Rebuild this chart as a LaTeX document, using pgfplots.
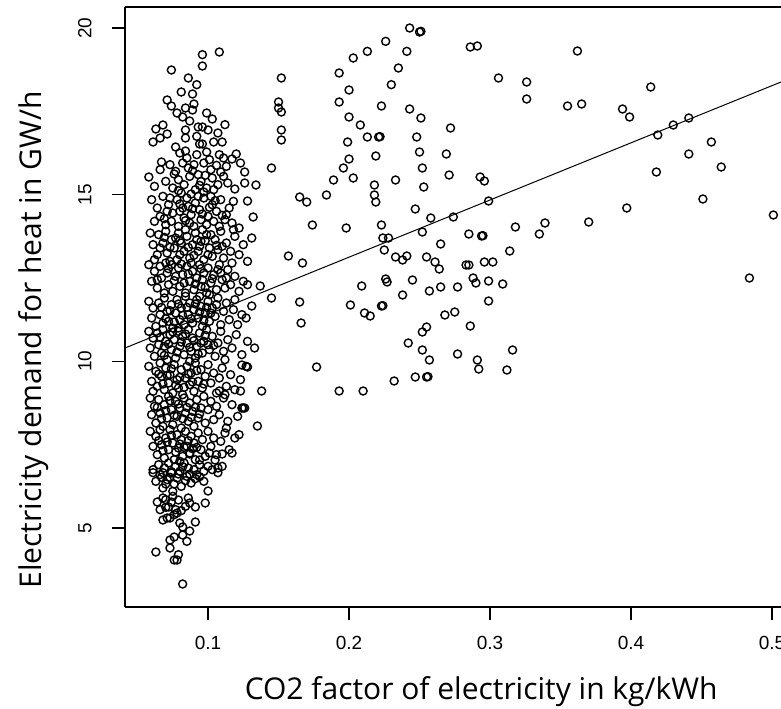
\documentclass[border=0pt]{standalone}
\usepackage{fontspec}
\setmainfont{Liberation Sans}
\newfontfamily\titlefont{Open Sans}
\usepackage{pgfplots}
\pgfplotsset{compat=1.18}
\begin{document}
\begin{tikzpicture}
\begin{axis}[
  at={(62.5pt,50.5pt)}, anchor=south west,
  scale only axis, width=328pt, height=300pt,
  xmin=0.0411, xmax=0.5064, ymin=2.63, ymax=20.63,
  axis x line*=box, axis y line*=left,
  xtick={0.1,0.2,0.3,0.4,0.5}, ytick={5,10,15,20},
  xtick pos=left, ytick pos=left,
  tick align=outside, major tick length=6.5pt,
  tick style={black, line width=0.7pt},
  axis line style={black, line width=0.7pt},
  /pgf/number format/assume math mode=true,
  /pgf/number format/fixed,
  /pgf/number format/precision=1,
  ticklabel style={font=\fontsize{9.5}{11}\selectfont},
  xticklabel style={anchor=north, inner sep=0pt, yshift=-8pt},
  yticklabel style={xshift=-10pt, rotate=90, anchor=south, inner sep=0pt},
  xlabel={CO2 factor of electricity in kg/kWh},
  ylabel={Electricity demand for heat in GW/h},
  xlabel style={font=\titlefont\fontsize{15}{17}\selectfont, at={(axis description cs:0.543,-0.1417)}, anchor=center},
  ylabel style={font=\titlefont\fontsize{15}{17}\selectfont, at={(axis description cs:-0.140,0.445)}, anchor=center},
]
% cluster
\addplot[only marks, mark=o, mark size=2pt, mark options={line width=0.7pt, black}] coordinates {
(0.096,19.20)(0.108,19.28)(0.096,18.86)(0.074,18.74)(0.086,18.50)(0.081,18.08)(0.089,18.02)(0.092,18.30)
(0.071,17.84)(0.074,17.66)(0.084,17.60)(0.090,17.72)(0.089,17.54)(0.082,17.33)(0.087,17.21)(0.099,17.45)(0.103,17.27)(0.068,17.09)(0.063,16.97)(0.071,16.82)(0.061,16.58)(0.084,16.94)(0.084,16.70)(0.093,17.03)(0.096,17.03)(0.100,16.94)(0.107,16.85)(0.094,16.52)(0.096,16.52)(0.104,16.58)(0.110,16.58)(0.077,16.43)(0.080,16.25)(0.084,16.31)(0.099,16.28)(0.092,16.75)(0.112,17.10)(0.078,17.45)(0.066,16.70)
(0.067,15.98)(0.058,15.53)(0.073,15.90)(0.077,15.70)(0.082,15.95)(0.086,15.80)(0.090,15.90)(0.093,15.60)(0.097,15.95)(0.102,15.75)(0.106,15.88)(0.111,16.10)(0.117,16.07)(0.120,16.22)(0.123,15.95)(0.126,15.68)(0.126,15.35)(0.134,15.29)(0.119,15.17)(0.070,15.40)(0.075,15.20)(0.079,15.45)(0.083,15.30)(0.087,15.55)(0.091,15.15)(0.095,15.40)(0.099,15.20)(0.103,15.50)(0.107,15.30)(0.111,15.55)(0.114,15.35)(0.081,15.05)(0.088,15.02)(0.097,15.08)(0.062,15.25)(0.066,15.75)(0.101,16.05)(0.108,16.20)(0.113,15.85)(0.085,16.10)(0.092,16.20)
(0.060,14.85)(0.064,14.60)(0.068,14.95)(0.072,14.70)(0.075,14.45)(0.078,14.85)(0.082,14.60)(0.085,14.90)(0.088,14.40)(0.091,14.75)(0.094,14.55)(0.097,14.90)(0.100,14.35)(0.103,14.70)(0.106,14.50)(0.109,14.85)(0.112,14.25)(0.115,14.60)(0.118,14.80)(0.128,14.81)(0.132,14.33)(0.122,14.00)(0.131,13.70)(0.062,14.20)(0.066,14.35)(0.070,14.10)(0.074,14.20)(0.079,14.05)(0.083,14.30)(0.087,14.15)(0.090,14.05)(0.095,14.25)(0.099,14.10)(0.104,14.20)(0.108,14.05)(0.113,14.40)(0.117,14.15)(0.080,14.50)(0.093,14.95)(0.071,14.50)(0.086,14.65)(0.102,14.95)
(0.059,13.85)(0.061,13.50)(0.064,13.20)(0.065,13.80)(0.068,13.55)(0.070,13.90)(0.071,13.25)(0.074,13.65)(0.076,13.40)(0.078,13.05)(0.079,13.85)(0.081,13.55)(0.083,13.30)(0.085,13.75)(0.087,13.10)(0.089,13.50)(0.091,13.85)(0.093,13.30)(0.095,13.60)(0.097,13.05)(0.099,13.80)(0.101,13.40)(0.103,13.15)(0.105,13.65)(0.107,13.35)(0.109,13.90)(0.111,13.10)(0.113,13.55)(0.116,13.30)(0.119,13.75)(0.122,13.20)(0.125,13.50)(0.128,13.00)(0.062,13.05)(0.073,13.00)(0.084,13.95)(0.096,13.95)(0.100,13.20)(0.092,13.65)(0.080,13.20)(0.066,13.40)(0.118,13.95)(0.110,13.45)
(0.058,12.90)(0.060,12.40)(0.062,12.70)(0.064,12.20)(0.066,12.85)(0.067,12.50)(0.069,12.05)(0.071,12.65)(0.072,12.30)(0.074,12.90)(0.075,12.10)(0.077,12.55)(0.079,12.80)(0.080,12.25)(0.082,12.60)(0.084,12.05)(0.085,12.85)(0.087,12.40)(0.089,12.70)(0.090,12.15)(0.092,12.50)(0.094,12.90)(0.095,12.25)(0.097,12.65)(0.099,12.05)(0.100,12.80)(0.102,12.35)(0.104,12.60)(0.106,12.15)(0.108,12.90)(0.110,12.45)(0.112,12.20)(0.114,12.75)(0.116,12.30)(0.119,12.55)(0.122,12.10)(0.125,12.40)(0.128,12.30)(0.137,12.26)(0.070,12.95)(0.088,12.95)(0.101,12.00)(0.117,12.95)(0.064,12.45)(0.083,12.35)(0.096,12.45)(0.109,12.65)
(0.058,11.80)(0.060,11.30)(0.061,11.60)(0.063,11.05)(0.065,11.75)(0.066,11.40)(0.068,11.15)(0.069,11.90)(0.071,11.50)(0.072,11.20)(0.074,11.70)(0.075,11.00)(0.077,11.45)(0.078,11.85)(0.080,11.25)(0.081,11.60)(0.083,11.10)(0.084,11.95)(0.086,11.40)(0.087,11.75)(0.089,11.15)(0.090,11.55)(0.092,11.85)(0.093,11.30)(0.095,11.65)(0.096,11.05)(0.098,11.45)(0.100,11.80)(0.101,11.20)(0.103,11.60)(0.105,11.35)(0.107,11.90)(0.109,11.10)(0.111,11.50)(0.113,11.75)(0.115,11.25)(0.118,11.55)(0.121,11.10)(0.124,11.40)(0.127,11.30)(0.131,11.66)(0.145,11.90)(0.079,11.00)(0.094,11.95)(0.106,11.70)(0.119,11.85)
(0.058,10.90)(0.059,10.40)(0.061,10.70)(0.062,10.15)(0.064,10.85)(0.065,10.50)(0.067,10.25)(0.068,10.95)(0.070,10.60)(0.071,10.05)(0.073,10.80)(0.074,10.35)(0.076,10.65)(0.077,10.10)(0.079,10.90)(0.080,10.45)(0.082,10.75)(0.083,10.20)(0.085,10.55)(0.086,10.95)(0.088,10.30)(0.089,10.70)(0.091,10.10)(0.092,10.45)(0.094,10.85)(0.096,10.25)(0.097,10.60)(0.099,10.95)(0.101,10.35)(0.103,10.75)(0.105,10.15)(0.107,10.55)(0.109,10.90)(0.111,10.30)(0.114,10.65)(0.117,10.40)(0.120,10.80)(0.124,10.20)(0.133,10.40)(0.128,10.60)(0.069,10.45)(0.087,10.00)(0.100,10.50)(0.112,10.05)
(0.058,9.85)(0.060,9.40)(0.061,9.10)(0.063,9.70)(0.064,9.25)(0.066,9.95)(0.067,9.55)(0.069,9.15)(0.070,9.80)(0.072,9.35)(0.073,9.60)(0.075,9.05)(0.076,9.90)(0.078,9.45)(0.079,9.20)(0.081,9.75)(0.082,9.00)(0.084,9.50)(0.085,9.85)(0.087,9.30)(0.088,9.65)(0.090,9.10)(0.091,9.95)(0.093,9.40)(0.095,9.75)(0.096,9.20)(0.098,9.55)(0.100,9.90)(0.102,9.35)(0.104,9.65)(0.106,9.05)(0.108,9.50)(0.110,9.80)(0.113,9.25)(0.116,9.60)(0.119,9.15)(0.123,9.45)(0.127,9.85)(0.138,9.11)(0.123,9.11)(0.112,9.00)(0.108,9.11)(0.128,9.83)(0.124,9.89)
(0.059,8.90)(0.060,8.40)(0.062,8.65)(0.063,8.15)(0.065,8.85)(0.066,8.45)(0.068,8.05)(0.069,8.70)(0.071,8.30)(0.072,8.95)(0.074,8.55)(0.075,8.10)(0.077,8.80)(0.078,8.35)(0.080,8.60)(0.081,8.00)(0.083,8.90)(0.084,8.45)(0.086,8.20)(0.087,8.75)(0.089,8.50)(0.090,8.05)(0.092,8.85)(0.093,8.30)(0.095,8.60)(0.097,8.95)(0.098,8.15)(0.100,8.55)(0.102,8.80)(0.104,8.25)(0.106,8.65)(0.108,8.40)(0.111,8.90)(0.114,8.20)(0.117,8.70)(0.121,8.35)(0.124,8.60)(0.125,8.60)(0.126,8.60)(0.135,8.06)(0.113,8.00)
(0.059,7.90)(0.061,7.45)(0.063,7.75)(0.064,7.20)(0.066,7.95)(0.067,7.50)(0.069,7.10)(0.070,7.70)(0.072,7.35)(0.073,7.95)(0.075,7.55)(0.076,7.05)(0.078,7.80)(0.079,7.40)(0.081,7.65)(0.082,7.15)(0.084,7.90)(0.085,7.45)(0.087,7.25)(0.088,7.75)(0.090,7.55)(0.091,7.05)(0.093,7.85)(0.095,7.35)(0.096,7.65)(0.098,7.15)(0.100,7.90)(0.102,7.45)(0.104,7.70)(0.106,7.20)(0.109,7.60)(0.112,7.85)(0.115,7.35)(0.119,7.70)(0.122,7.80)(0.080,7.00)(0.087,7.22)(0.094,7.04)(0.101,7.25)(0.105,7.04)(0.110,7.22)(0.117,7.25)
(0.061,6.75)(0.063,6.40)(0.065,6.90)(0.066,6.60)(0.068,6.20)(0.069,6.80)(0.071,6.45)(0.072,6.95)(0.074,6.65)(0.075,6.10)(0.077,6.85)(0.078,6.50)(0.080,6.70)(0.081,6.25)(0.083,6.95)(0.085,6.55)(0.086,6.80)(0.088,6.35)(0.090,6.75)(0.092,6.60)(0.094,6.90)(0.097,6.70)(0.100,6.85)(0.103,6.75)(0.107,6.80)(0.097,6.40)(0.110,6.85)(0.061,6.66)(0.068,6.66)(0.074,6.69)(0.082,6.84)(0.094,6.54)(0.107,6.66)
(0.064,5.78)(0.068,5.90)(0.072,5.63)(0.079,5.84)(0.087,5.75)(0.091,5.63)(0.068,5.24)(0.071,5.30)(0.078,5.45)(0.082,5.03)(0.098,5.75)(0.100,6.11)(0.066,5.55)(0.070,5.85)(0.075,5.95)(0.077,5.55)(0.084,5.65)(0.073,5.30)(0.076,5.40)(0.080,5.15)(0.086,5.90)
(0.082,3.32)(0.063,4.28)(0.073,4.40)(0.076,4.04)(0.079,4.20)(0.078,4.04)(0.073,4.64)(0.076,4.73)(0.082,4.79)(0.087,4.91)(0.091,5.18)(0.085,4.60)
(0.076,15.62)(0.079,15.12)(0.089,15.72)(0.094,15.28)(0.098,15.58)(0.104,15.15)(0.109,15.68)(0.080,14.72)(0.084,14.22)(0.089,14.58)(0.096,14.42)(0.101,14.62)(0.105,14.82)(0.110,14.38)(0.073,14.90)(0.069,14.28)
(0.069,13.72)(0.073,13.42)(0.077,13.70)(0.080,13.62)(0.086,13.42)(0.090,13.18)(0.094,13.45)(0.098,13.62)(0.102,13.80)(0.106,13.48)(0.072,12.78)(0.076,12.42)(0.081,12.92)(0.086,12.62)(0.091,12.32)(0.095,12.78)(0.098,12.22)(0.103,12.48)(0.107,12.75)(0.113,12.50)
(0.067,11.62)(0.070,11.28)(0.073,11.52)(0.076,11.18)(0.079,11.72)(0.082,11.38)(0.085,11.62)(0.088,11.28)(0.091,11.72)(0.094,11.48)(0.097,11.22)(0.099,11.62)(0.102,11.45)(0.066,10.72)(0.069,10.18)(0.072,10.52)(0.075,10.88)(0.078,10.28)(0.081,10.58)(0.084,10.82)(0.087,10.42)(0.090,10.62)(0.093,10.22)(0.095,10.55)(0.098,10.78)(0.104,10.48)
(0.065,9.62)(0.068,9.32)(0.071,9.58)(0.074,9.78)(0.077,9.28)(0.080,9.52)(0.083,9.22)(0.086,9.62)(0.089,9.38)(0.092,9.72)(0.097,9.32)(0.064,8.62)(0.067,8.28)(0.070,8.52)(0.073,8.82)(0.076,8.38)(0.079,8.72)(0.082,8.28)(0.085,8.62)(0.088,8.32)(0.091,8.62)(0.094,8.42)(0.065,7.62)(0.068,7.32)(0.071,7.58)(0.074,7.78)(0.077,7.28)(0.080,7.52)(0.083,7.42)(0.086,7.62)(0.089,7.38)(0.092,7.42)
(0.067,6.52)(0.070,6.32)(0.073,6.52)(0.076,6.32)(0.079,6.62)(0.084,6.42)(0.087,6.62)(0.091,6.48)(0.070,5.62)(0.074,5.78)(0.081,5.52)
};
% scattered points
\addplot[only marks, mark=o, mark size=2pt, mark options={line width=0.7pt, black}] coordinates {
(0.243,20.00)(0.250,19.88)(0.251,19.90)(0.226,19.60)(0.213,19.30)(0.241,19.30)(0.203,19.10)(0.235,18.80)
(0.152,18.50)(0.193,18.65)(0.230,18.30)(0.200,18.14)(0.150,17.78)(0.150,17.60)(0.152,17.48)(0.193,17.78)
(0.223,17.66)(0.243,17.57)(0.200,17.33)(0.251,17.30)(0.208,17.09)(0.213,16.73)(0.221,16.73)(0.222,16.74)
(0.248,16.73)(0.272,17.00)(0.152,16.94)(0.152,16.64)(0.199,16.58)(0.250,16.28)(0.219,16.16)(0.269,16.22)
(0.200,16.07)(0.196,15.80)(0.252,15.80)(0.271,15.59)(0.145,15.80)(0.203,15.50)(0.189,15.44)(0.233,15.44)
(0.253,15.23)(0.218,15.29)(0.218,14.99)(0.219,14.78)(0.184,14.99)(0.165,14.93)(0.170,14.78)(0.247,14.57)
(0.258,14.30)(0.174,14.09)(0.198,14.00)(0.223,14.09)(0.252,13.88)(0.224,13.70)(0.228,13.70)(0.265,13.52)
(0.225,13.34)(0.157,13.16)(0.167,12.95)(0.233,13.13)(0.241,13.16)(0.238,13.04)(0.255,13.13)(0.261,12.98)
(0.264,12.77)(0.209,12.26)(0.226,12.47)(0.227,12.38)(0.245,12.44)(0.257,12.11)(0.265,12.23)(0.238,11.99)
(0.165,11.78)(0.201,11.69)(0.223,11.66)(0.224,11.67)(0.211,11.45)(0.215,11.36)(0.268,11.39)(0.166,11.15)
(0.255,11.03)(0.252,10.88)(0.242,10.55)(0.252,10.34)(0.257,10.04)(0.177,9.83)(0.232,9.41)(0.247,9.53)
(0.255,9.53)(0.256,9.54)(0.193,9.11)(0.210,9.11)
(0.286,19.43)(0.291,19.46)(0.362,19.31)(0.306,18.50)(0.326,18.38)(0.326,17.87)(0.414,18.23)(0.355,17.66)
(0.365,17.72)(0.394,17.57)(0.399,17.33)(0.441,17.30)(0.430,17.09)(0.419,16.79)(0.457,16.58)(0.441,16.22)
(0.464,15.83)(0.293,15.53)(0.296,15.41)(0.418,15.68)(0.299,14.81)(0.274,14.33)(0.397,14.60)(0.451,14.87)
(0.501,14.39)(0.285,13.82)(0.294,13.76)(0.295,13.77)(0.318,14.03)(0.339,14.15)(0.335,13.82)(0.370,14.18)
(0.314,13.31)(0.283,12.89)(0.285,12.89)(0.296,12.98)(0.302,12.98)(0.288,12.50)(0.290,12.35)(0.299,12.41)
(0.309,12.32)(0.277,12.23)(0.299,11.81)(0.275,11.48)(0.484,12.50)(0.286,11.06)(0.277,10.22)(0.291,10.04)
(0.292,9.77)(0.316,10.34)(0.312,9.74)
};
% regression line
\addplot[black, line width=0.5pt] coordinates {(0.0411,10.40)(0.5064,18.38)};
\end{axis}
\pgfresetboundingbox
\path[use as bounding box] (0,0) rectangle (390.5pt,354pt);
\end{tikzpicture}
\end{document}
